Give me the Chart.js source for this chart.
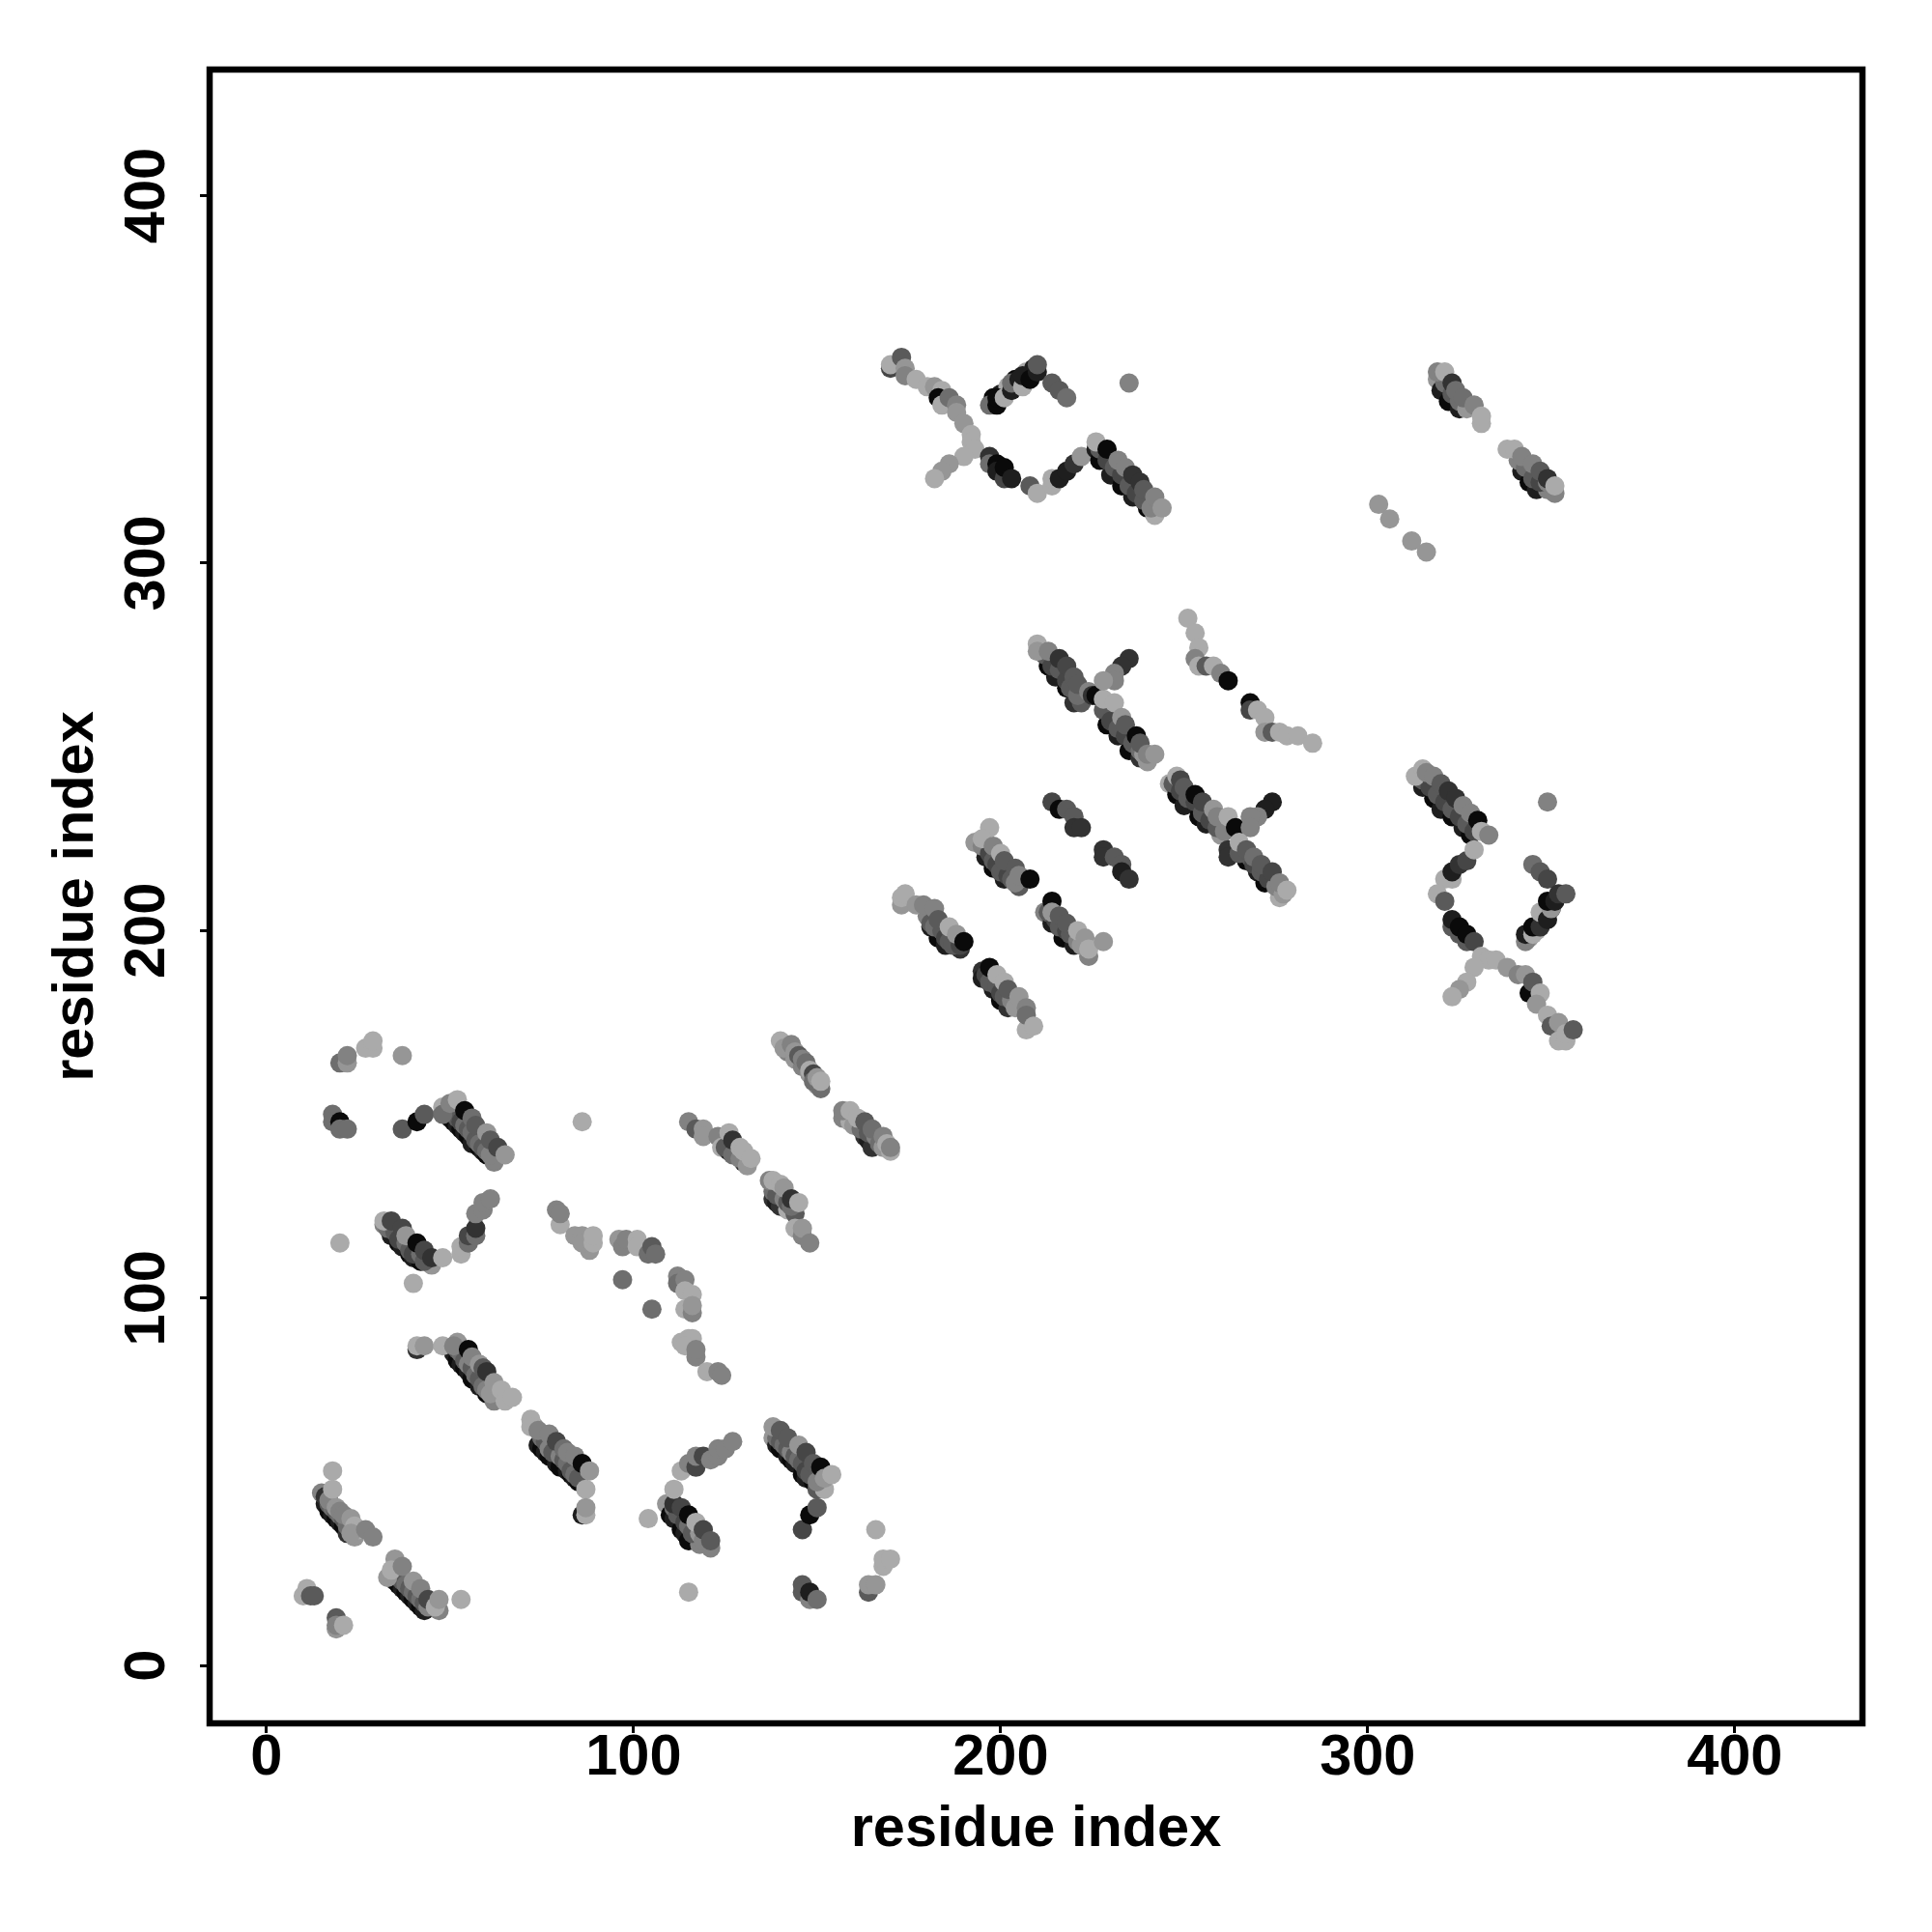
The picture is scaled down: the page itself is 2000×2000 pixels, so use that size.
<!DOCTYPE html>
<html>
<head>
<meta charset="utf-8">
<title>residue contacts</title>
<script src="https://cdn.jsdelivr.net/npm/chart.js@4/dist/chart.umd.min.js"></script>
<style>
  html, body { margin: 0; padding: 0; background: #fff; }
  canvas { display: block; }
</style>
</head>
<body>
<canvas id="contactMap" width="2000" height="2000"></canvas>
<script>
// rows line up between the three arrays, one row per contact cluster
const residueX = [
  10,11,12,13,
  19,19,19,21,
  18,
  16,17,18,19,20,21,22,24,
  17,18,19,20,21,22,
  15,16,17,18,19,20,21,23,24,25,23,27,29,
  35,36,37,38,39,40,41,42,43,47,
  36,37,38,39,40,41,42,43,44,
  33,35,34,37,40,42,44,46,47,53,
  40,97,105,
  41,51,52,53,54,55,56,58,60,62,
  52,53,54,55,56,57,58,59,60,61,
  41,43,48,52,51,55,56,58,59,60,62,64,65,67,
  73,74,75,76,77,79,80,82,83,84,85,
  75,76,77,78,80,81,82,83,84,85,
  72,72,74,77,79,81,82,84,86,88,87,86,87,87,
  104,
  20,22,22,27,29,29,37,
  18,18,20,20,22,
  37,41,43,
  50,51,52,53,54,55,56,58,59,60,62,
  50,52,53,54,55,56,57,58,59,60,61,
  48,48,50,52,54,56,57,60,61,63,65,
  86,
  115,117,119,119,
  123,124,126,128,130,
  125,127,129,131,
  126,127,129,130,132,
  20,
  32,34,36,37,39,40,42,45,
  33,35,36,38,39,40,42,43,
  32,34,37,38,41,43,45,48,
  53,53,55,55,57,57,57,59,59,61,
  80,79,80,84,86,88,86,89,89,
  96,97,98,101,101,104,105,106,
  112,112,114,114,116,114,116,116,
  113,115,116,114,117,117,120,123,124,
  166,168,168,170,164,164,166,
  146,146,148,148,150,
  115,
  109,110,111,113,114,115,118,121,
  111,112,114,115,116,118,119,
  111,113,115,117,119,121,111,
  113,115,117,117,119,121,123,123,125,127,
  138,139,140,142,143,144,146,147,149,150,152,
  139,140,141,142,143,144,145,146,147,148,150,
  138,140,142,145,147,149,151,152,154,
  146,148,150,
  157,163,164,165,159,
  160,162,164,166,167,168,
  157,159,161,163,165,168,170,169,170,
  138,139,140,142,144,
  138,139,141,142,143,
  137,138,140,141,143,145,
  144,146,146,148,
  142,144,146,148,150,
  140,141,143,144,145,146,147,148,149,149,150,151,151,
  181,183,185,189,
  180,181,182,184,185,186,187,189,
  173,173,174,177,179,182,183,186,188,190,
  195,195,198,200,202,207,
  196,197,199,200,201,203,204,
  197,199,201,202,205,207,207,209,
  193,196,198,201,205,
  195,197,198,199,200,202,203,204,
  197,195,198,200,201,204,205,208,
  212,214,217,220,224,
  213,215,216,218,219,221,222,
  214,214,216,218,221,223,224,228,
  214,216,218,220,220,222,
  228,228,231,233,233,235,
  213,215,218,220,222,229,232,235,238,240,
  212,214,216,218,219,221,228,230,232,234,236,238,239,
  210,210,213,216,218,220,221,224,225,226,228,231,233,234,237,238,240,242,
  235,233,231,231,228,
  251,253,254,253,254,256,258,260,262,
  268,268,270,272,272,274,276,278,281,285,
  246,248,250,254,256,260,
  247,249,251,253,255,257,259,261,
  248,249,250,253,255,258,259,262,264,
  274,272,270,268,268,
  262,262,267,270,272,276,
  265,268,269,271,273,275,277,
  265,267,269,271,274,276,278,
  170,170,173,174,174,177,180,182,184,183,184,186,188,188,190,192,192,193,190,186,184,182,
  197,197,199,199,201,201,203,
  208,210,214,214,216,218,220,222,
  226,227,230,233,236,240,242,
  227,229,231,233,235,237,239,241,
  226,229,232,234,236,238,239,242,244,
  198,200,202,204,207,209,
  197,199,199,201,203,203,205,206,206,208,210,210,
  214,216,218,
  235,
  303,306,312,316,
  319,320,322,325,
  321,323,325,327,
  319,321,323,324,326,329,331,331,
  342,344,346,349,351,
  341,343,345,347,349,
  338,340,342,345,347,349,351,
  315,318,320,323,326,328,
  315,317,319,321,323,325,327,329,
  313,315,316,318,320,322,324,326,328,330,331,333,
  349,
  323,321,323,325,327,329,
  319,321,
  323,323,325,325,327,327,329,
  331,333,335,338,329,327,325,323,
  341,344,343,345,347,346,349,350,352,354,352,354,356,
  345,347,349,
  344,346,348,350,
  343,343,345,345,347,347,349,350,349,351,352,354
];

const residueY = [
  19,21,19,19,
  10,13,11,11,
  53,
  44,42,41,40,39,38,36,35,
  44,43,42,41,40,38,
  47,46,45,48,43,42,41,40,38,37,36,37,35,
  23,22,21,20,19,18,17,16,15,15,
  24,23,22,21,20,19,18,17,16,
  24,29,26,27,23,21,18,16,18,18,
  104,105,97,
  86,85,83,82,81,80,78,76,74,72,
  86,85,83,82,81,79,78,76,75,74,
  87,87,87,88,87,86,84,82,81,80,77,75,72,73,
  65,60,59,58,57,55,54,53,52,51,50,
  62,61,59,58,57,56,55,53,52,51,
  67,65,64,63,61,59,58,57,55,53,48,41,41,43,
  40,
  164,164,166,168,168,170,166,
  150,148,148,146,146,
  146,148,150,
  149,148,147,146,145,144,142,141,140,139,137,
  151,149,148,147,146,145,143,142,141,140,139,
  152,150,153,154,151,149,147,145,143,141,139,
  148,
  148,146,146,144,
  144,141,140,139,137,
  141,139,138,136,
  145,143,141,140,138,
  115,
  120,117,115,114,112,111,110,109,
  119,118,116,115,113,112,112,110,
  121,121,119,117,115,113,111,111,
  112,114,115,117,117,119,123,124,126,127,
  120,124,123,117,117,113,115,115,117,
  116,114,116,116,114,112,114,112,
  106,104,105,102,101,97,96,98,
  88,89,89,87,84,86,80,80,79,
  37,27,29,29,20,22,22,
  22,20,18,20,18,
  20,
  44,41,40,37,36,34,33,32,
  43,41,39,38,36,36,34,
  44,43,41,39,37,34,48,
  53,55,54,57,57,56,57,59,59,61,
  62,60,59,57,56,55,52,51,50,48,48,
  62,61,60,59,58,57,56,55,53,52,50,
  65,64,62,60,58,55,54,51,52,
  37,41,43,
  149,144,143,141,148,
  147,146,145,144,142,141,
  151,151,149,148,146,144,140,142,141,
  127,126,125,124,123,
  129,128,127,126,125,
  132,132,131,130,127,126,
  119,117,119,115,
  167,165,163,161,158,
  170,168,169,167,166,165,164,162,161,159,160,157,159,
  201,198,196,195,
  204,202,201,200,198,197,196,196,
  207,209,210,207,207,206,203,201,199,197,
  189,187,184,181,179,173,
  188,186,185,183,182,181,179,
  190,188,186,184,182,179,177,174,
  224,220,217,214,212,
  223,221,219,218,216,215,214,213,
  228,225,223,221,219,217,215,214,
  205,202,198,196,193,
  205,203,201,200,199,197,196,
  208,205,204,202,200,198,195,197,
  235,233,233,231,228,228,
  222,220,220,218,216,214,
  272,269,266,262,262,256,253,249,247,246,
  275,272,271,268,266,264,260,257,255,253,251,249,248,
  278,276,276,274,272,269,267,265,264,264,263,262,258,256,253,251,248,248,
  274,272,270,268,268,
  285,281,277,274,272,272,272,270,268,
  262,260,260,258,254,254,254,253,253,251,
  240,237,234,231,229,226,
  240,238,236,235,232,230,228,227,
  242,241,239,237,235,233,231,231,228,
  235,233,231,231,228,
  222,220,219,216,213,209,
  221,220,218,216,214,212,210,
  224,222,220,218,216,213,211,
  353,354,356,353,351,350,348,348,347,345,343,345,343,341,338,335,333,331,329,327,325,323,
  329,327,327,325,323,326,323,
  321,319,321,323,323,325,327,329,
  331,328,324,321,318,315,313,
  331,328,326,324,321,319,317,315,
  333,331,328,326,324,322,320,318,315,
  345,346,348,350,352,353,
  343,343,345,345,347,349,350,348,351,350,352,354,
  349,347,345,
  349,
  316,312,306,303,
  350,347,344,342,
  349,346,344,342,
  352,352,349,347,345,343,338,340,
  325,322,320,320,319,
  328,326,323,322,322,
  331,331,329,327,325,323,321,
  239,236,233,231,228,226,
  241,239,237,235,233,231,229,227,
  242,244,243,242,240,238,236,234,232,230,227,226,
  235,
  214,214,216,218,219,222,
  210,208,
  201,203,199,201,197,199,197,
  193,192,192,190,190,186,184,182,
  188,183,188,186,183,180,177,174,170,170,175,172,173,
  218,216,214,
  198,200,204,206,
  197,199,199,201,201,205,203,206,208,208,210,210
];

// contact score 1 (weak, light) to 9 (strong, black)
const contactScore = [
  1,1,5,5,
  2,5,3,1,
  1,
  8,9,8,9,8,9,7,2,
  5,4,5,4,5,4,
  3,7,3,1,2,3,3,2,1,1,2,3,3,
  8,9,8,9,8,9,8,9,8,3,
  4,5,4,5,4,5,4,5,3,
  2,2,1,3,2,3,6,1,2,1,
  1,4,4,
  7,8,9,8,9,8,9,8,9,3,
  5,4,5,3,5,4,5,4,3,2,
  1,2,1,2,3,9,3,2,5,7,2,1,1,1,
  2,8,9,8,9,8,9,8,9,8,9,
  4,5,3,5,3,5,4,5,4,5,
  1,1,3,3,6,4,3,3,9,2,1,8,1,2,
  1,
  4,2,3,1,1,1,2,
  4,4,9,4,4,
  5,9,5,
  8,9,8,9,8,9,8,9,8,9,3,
  4,5,6,4,5,4,5,4,5,4,3,
  1,4,3,1,9,4,5,2,5,6,2,
  1,
  3,5,2,2,
  3,1,8,8,7,
  5,4,3,2,
  1,7,1,1,1,
  1,
  3,8,9,8,9,8,9,2,
  4,5,6,4,5,6,4,5,
  1,6,6,2,9,6,7,1,
  1,1,4,6,4,7,3,3,3,3,
  1,3,3,2,2,2,2,1,1,
  2,3,3,1,1,4,5,4,
  3,4,3,1,1,1,3,2,
  1,1,1,1,3,3,1,3,3,
  1,1,1,1,5,2,2,
  5,5,3,8,4,
  1,
  2,9,8,9,8,9,3,3,
  4,5,6,4,5,2,3,
  7,6,9,1,6,5,1,
  1,3,6,3,6,3,3,3,3,3,
  2,8,9,8,9,8,9,8,9,5,1,
  4,5,4,5,3,5,4,5,6,5,3,
  2,5,5,2,6,5,9,2,1,
  6,9,5,
  3,7,8,7,1,
  2,4,5,3,4,2,
  3,1,1,5,4,3,1,1,3,
  7,8,7,1,5,
  4,5,3,5,4,
  3,1,1,2,7,1,
  1,3,2,3,
  3,2,3,2,2,
  1,2,3,2,5,3,4,1,6,4,2,4,1,
  8,9,8,7,
  3,5,4,5,6,5,5,6,
  2,1,1,2,3,3,5,1,2,9,
  7,8,8,9,7,1,
  6,5,5,6,5,3,2,
  9,1,1,5,2,3,4,1,
  2,8,9,8,5,
  3,6,5,6,5,6,5,3,
  1,1,3,1,5,5,3,9,
  3,8,9,8,3,
  5,6,5,6,5,3,2,
  9,2,5,5,1,2,1,2,
  6,9,5,5,7,7,
  7,7,5,5,8,7,
  9,8,9,7,5,9,8,9,7,2,
  5,6,5,6,5,4,5,6,5,6,5,4,2,
  1,2,3,7,6,5,5,3,7,9,1,1,2,5,9,5,3,2,
  7,7,3,3,2,
  1,1,1,3,1,5,1,3,9,
  9,6,1,1,2,5,1,1,1,1,
  1,9,8,9,8,2,
  5,6,5,6,5,6,5,3,
  1,6,5,9,6,2,3,1,9,
  8,8,3,3,3,
  7,7,9,8,9,1,
  5,5,6,5,6,3,2,
  1,5,4,5,6,3,1,
  6,1,5,2,3,1,1,2,1,9,1,4,3,2,2,1,1,1,1,2,2,1,
  7,4,9,8,6,9,8,
  5,1,1,1,8,8,7,2,
  8,9,8,9,8,9,1,
  5,6,5,6,5,6,5,3,
  1,9,3,3,7,7,5,3,2,
  9,8,1,9,1,8,
  4,9,9,1,8,4,8,1,8,9,8,5,
  5,5,4,
  3,
  2,2,2,2,
  2,8,9,8,
  4,5,4,2,
  3,1,7,4,4,3,1,1,
  8,9,8,3,3,
  3,4,5,6,3,
  1,1,3,3,5,7,1,
  8,9,8,9,8,9,
  5,6,5,6,5,6,5,6,
  1,1,3,3,5,7,7,3,3,9,1,3,
  3,
  1,1,8,7,6,1,
  1,5,
  5,8,5,9,5,9,6,
  1,1,1,2,1,1,2,1,
  3,9,2,5,1,2,1,5,1,1,2,1,5,
  4,5,6,
  2,1,2,9,
  3,8,1,9,7,1,8,2,9,8,7,5
];

const tickValues = [0, 100, 200, 300, 400];
const axisTitle = 'residue index';

const scorePoints = residueX.map((x, i) => ({ x: x, y: residueY[i] }));

// darker for a higher score, light grey for the weakest ones
function scoreColor(score) {
    const g = 10 + (9 - score) * 20;
    return `rgb(${g},${g},${g})`;
}

// R style box round the plot
const frameBox = {
    id: 'frameBox',
    afterDatasetsDraw(chart) {
        const { ctx, chartArea: a } = chart;
        ctx.save();
        ctx.strokeStyle = '#000';
        ctx.lineWidth = 6.5;
        ctx.strokeRect(a.left, a.top, a.right - a.left, a.bottom - a.top);
        ctx.restore();
    }
};

const labelFont = { family: '"Liberation Sans"', size: 59.5, weight: 'bold' };

new Chart(document.getElementById('contactMap').getContext('2d'), {
    type: 'scatter',
    data: {
        datasets: [{
            data: scorePoints,
            backgroundColor: contactScore.map(scoreColor),
            borderWidth: 0,
            pointRadius: 10,
            pointHoverRadius: 10
        }]
    },
    options: {
        responsive: false,
        animation: false,
        devicePixelRatio: 1,
        layout: { padding: { left: 44, right: 72, top: 72, bottom: 70 } },
        plugins: { legend: { display: false }, tooltip: { enabled: false } },
        scales: {
            x: {
                type: 'linear',
                min: -15.5,
                max: 434.8,
                afterBuildTicks: s => { s.ticks = tickValues.map(v => ({ value: v })); },
                afterFit: s => { s.height = 146; },
                border: { display: false },
                grid: { drawOnChartArea: false, drawTicks: true, tickLength: 10, tickWidth: 3, tickColor: '#000', lineWidth: 3 },
                ticks: { color: '#000', font: labelFont, padding: -9, maxRotation: 0, minRotation: 0, autoSkip: false },
                title: { display: true, text: axisTitle, color: '#000', font: labelFont, padding: 0 }
            },
            y: {
                type: 'linear',
                min: -15.7,
                max: 434.3,
                afterBuildTicks: s => { s.ticks = tickValues.map(v => ({ value: v })); },
                afterFit: s => { s.width = 173; },
                border: { display: false },
                grid: { drawOnChartArea: false, drawTicks: true, tickLength: 10, tickWidth: 3, tickColor: '#000', lineWidth: 3 },
                ticks: { color: '#000', font: labelFont, padding: 4, minRotation: 90, maxRotation: 90, crossAlign: 'center', autoSkip: false },
                title: { display: true, text: axisTitle, color: '#000', font: labelFont, padding: 0 }
            }
        }
    },
    plugins: [frameBox]
});
</script>
</body>
</html>
